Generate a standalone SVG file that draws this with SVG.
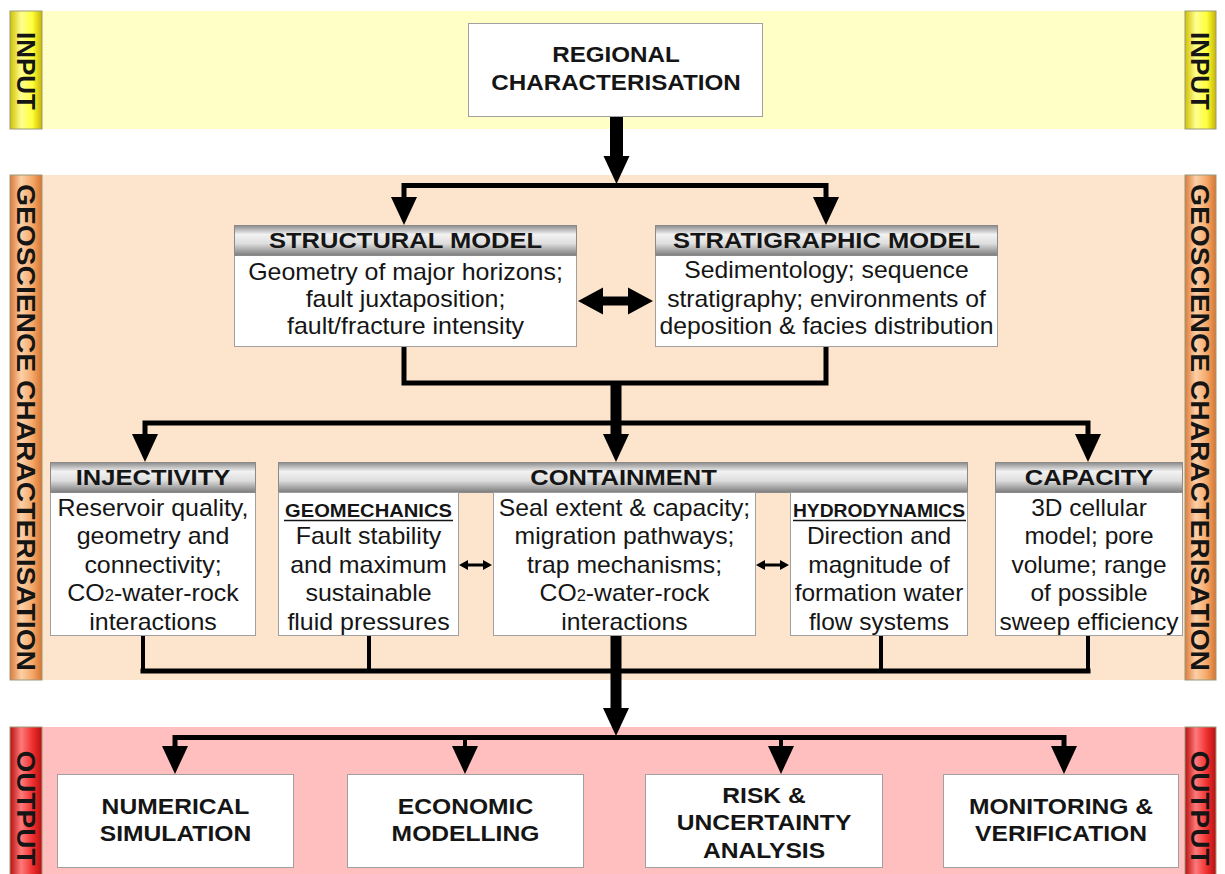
<svg xmlns="http://www.w3.org/2000/svg" xmlns:xlink="http://www.w3.org/1999/xlink" width="1225" height="874" viewBox="0 0 1225 874">
<defs>
<linearGradient id="gY" x1="0" y1="0" x2="1" y2="0"><stop offset="0" stop-color="#cfc000"/><stop offset="0.35" stop-color="#ffff90"/><stop offset="0.7" stop-color="#ffff3a"/><stop offset="1" stop-color="#c8b400"/></linearGradient>
<linearGradient id="gO" x1="0" y1="0" x2="1" y2="0"><stop offset="0" stop-color="#dc7a38"/><stop offset="0.35" stop-color="#fcd0a8"/><stop offset="0.7" stop-color="#f5a868"/><stop offset="1" stop-color="#d87430"/></linearGradient>
<linearGradient id="gR" x1="0" y1="0" x2="1" y2="0"><stop offset="0" stop-color="#b81010"/><stop offset="0.35" stop-color="#ff7a7a"/><stop offset="0.7" stop-color="#f03030"/><stop offset="1" stop-color="#b81010"/></linearGradient>
<linearGradient id="gH" x1="0" y1="0" x2="0" y2="1"><stop offset="0" stop-color="#8a8a8a"/><stop offset="0.3" stop-color="#f2f2f2"/><stop offset="0.6" stop-color="#dedede"/><stop offset="1" stop-color="#7c7c7c"/></linearGradient>
<path id="ah" d="M-13,-28 L13,-28 L0,0 Z"/>
<style>
text{font-family:"Liberation Sans",Arial,sans-serif;fill:#151515;text-anchor:middle}
.side{font-size:26px;font-weight:bold}
.hd{font-size:22px;font-weight:bold}
.big{font-size:22px;font-weight:bold}
.b{font-size:24px}
.sub{font-size:18px;font-weight:bold}
.box{fill:#fff;stroke:#a0a0a0;stroke-width:1}
.hbar{fill:url(#gH);stroke:#8a8a8a;stroke-width:1}
.lab{stroke:#9a9a7a;stroke-width:1}
.ln{fill:none;stroke:#000;stroke-width:5;stroke-linejoin:miter;stroke-linecap:square}
.ln4{fill:none;stroke:#000;stroke-width:4}
.ul{stroke:#151515;stroke-width:1.5}
</style>
</defs>
<rect width="1225" height="874" fill="#fff"/>
<g id="bands">
<rect x="42" y="11" width="1143" height="118" fill="#ffffc6"/>
<rect x="42" y="175" width="1143" height="505" fill="#fde5cd"/>
<rect x="42" y="727" width="1143" height="147" fill="#ffbfbf"/>
</g>
<g id="label-input-left"><rect class="lab" x="10" y="11" width="32" height="118" fill="url(#gY)"/><text class="side" transform="translate(16.7 71) rotate(90)">INPUT</text></g>
<g id="label-input-right"><rect class="lab" x="1185" y="11" width="31" height="118" fill="url(#gY)"/><text class="side" transform="translate(1191.2 71) rotate(90)">INPUT</text></g>
<g id="label-geo-left"><rect class="lab" x="10" y="175" width="32" height="505" fill="url(#gO)"/><text class="side" transform="translate(16.7 427.5) rotate(90)" textLength="487" lengthAdjust="spacingAndGlyphs">GEOSCIENCE CHARACTERISATION</text></g>
<g id="label-geo-right"><rect class="lab" x="1185" y="175" width="31" height="505" fill="url(#gO)"/><text class="side" transform="translate(1191.2 427.5) rotate(90)" textLength="487" lengthAdjust="spacingAndGlyphs">GEOSCIENCE CHARACTERISATION</text></g>
<g id="label-output-left"><rect class="lab" x="10" y="727" width="32" height="150" fill="url(#gR)"/><text class="side" transform="translate(16.7 808) rotate(90)" textLength="115" lengthAdjust="spacingAndGlyphs">OUTPUT</text></g>
<g id="label-output-right"><rect class="lab" x="1185" y="727" width="31" height="150" fill="url(#gR)"/><text class="side" transform="translate(1191.2 808) rotate(90)" textLength="115" lengthAdjust="spacingAndGlyphs">OUTPUT</text></g>

<g id="connectors">
<rect x="610" y="117" width="13" height="41"/>
<use xlink:href="#ah" transform="translate(616.5 184)"/>
<path class="ln" d="M404,200 V185.5 H826 V200"/>
<use xlink:href="#ah" transform="translate(404 225)"/>
<use xlink:href="#ah" transform="translate(826 225)"/>
<path d="M578,301 L603,287.5 L603,296.5 L628,296.5 L628,287.5 L653,301 L628,314.5 L628,305.5 L603,305.5 L603,314.5 Z"/>
<path class="ln" d="M404,347 V383 H826 V347"/>
<rect x="610.5" y="383" width="11" height="52"/>
<path class="ln" d="M145,434 V423 H1088 V434"/>
<use xlink:href="#ah" transform="translate(145 462)"/>
<use xlink:href="#ah" transform="translate(616 462)"/>
<use xlink:href="#ah" transform="translate(1088 462)"/>
<path d="M459,565 L468,560 L468,563.5 L483,563.5 L483,560 L492,565 L483,570 L483,566.5 L468,566.5 L468,570 Z"/>
<path d="M756,565 L765,560 L765,563.5 L780,563.5 L780,560 L789,565 L780,570 L780,566.5 L765,566.5 L765,570 Z"/>
<path class="ln4" d="M143,636 V671 M369,636 V671 M881,636 V671 M1088,636 V671"/>
<path class="ln" d="M143,671 H1088"/>
<rect x="610.5" y="636" width="11" height="73"/>
<use xlink:href="#ah" transform="translate(616 736)"/>
<path class="ln" d="M175,746 V737.5 H1064 V746"/>
<path class="ln4" d="M465,737 V746 M781,737 V746"/>
<use xlink:href="#ah" transform="translate(175 774)"/>
<use xlink:href="#ah" transform="translate(465 774)"/>
<use xlink:href="#ah" transform="translate(781 774)"/>
<use xlink:href="#ah" transform="translate(1064 774)"/>
</g>

<g id="regional">
<rect class="box" x="468.5" y="23.5" width="294" height="93"/>
<text class="big" transform="translate(616 0) scale(1.1 1)"><tspan x="0" y="62">REGIONAL</tspan><tspan x="0" y="90">CHARACTERISATION</tspan></text>
</g>

<g id="structural">
<rect class="box" x="234.5" y="225.5" width="342" height="121"/>
<rect class="hbar" x="234.5" y="225.5" width="342" height="30"/>
<text class="hd" transform="translate(405.5 0) scale(1.16 1)" x="0" y="248">STRUCTURAL MODEL</text>
<text class="b" transform="translate(405.5 0) scale(1.04 1)"><tspan x="0" y="280">Geometry of major horizons;</tspan><tspan x="0" y="307">fault juxtaposition;</tspan><tspan x="0" y="334">fault/fracture intensity</tspan></text>
</g>

<g id="stratigraphic">
<rect class="box" x="655.5" y="225.5" width="342" height="121"/>
<rect class="hbar" x="655.5" y="225.5" width="342" height="30"/>
<text class="hd" transform="translate(826.5 0) scale(1.16 1)" x="0" y="248">STRATIGRAPHIC MODEL</text>
<text class="b" transform="translate(826.5 0) scale(1.03 1)"><tspan x="0" y="278">Sedimentology; sequence</tspan><tspan x="0" y="307">stratigraphy; environments of</tspan><tspan x="0" y="334">deposition &amp; facies distribution</tspan></text>
</g>

<g id="injectivity">
<rect class="box" x="50.5" y="462.5" width="205" height="173"/>
<rect class="hbar" x="50.5" y="462.5" width="205" height="30"/>
<text class="hd" transform="translate(153 0) scale(1.16 1)" x="0" y="485">INJECTIVITY</text>
<text class="b" transform="translate(153 0) scale(1.04 1)"><tspan x="0" y="516">Reservoir quality,</tspan><tspan x="0" y="544.5">geometry and</tspan><tspan x="0" y="573">connectivity;</tspan><tspan x="0" y="601.5">CO<tspan font-size="16">2</tspan>-water-rock</tspan><tspan x="0" y="630">interactions</tspan></text>
</g>

<g id="containment">
<rect class="hbar" x="278.5" y="462.5" width="689" height="30"/>
<text class="hd" transform="translate(623.5 0) scale(1.16 1)" x="0" y="485">CONTAINMENT</text>
</g>

<g id="geomechanics">
<rect class="box" x="278.5" y="492.5" width="180" height="143"/>
<text class="sub" transform="translate(368.5 0) scale(1.12 1)" x="0" y="517">GEOMECHANICS</text>
<line class="ul" x1="284" y1="520.5" x2="453" y2="520.5"/>
<text class="b" transform="translate(368.5 0) scale(1.04 1)"><tspan x="0" y="544.5">Fault stability</tspan><tspan x="0" y="573">and maximum</tspan><tspan x="0" y="601.5">sustainable</tspan><tspan x="0" y="630">fluid pressures</tspan></text>
</g>

<g id="containment-core">
<rect class="box" x="493.5" y="492.5" width="262" height="143"/>
<text class="b" transform="translate(624.5 0) scale(1.03 1)"><tspan x="0" y="516">Seal extent &amp; capacity;</tspan><tspan x="0" y="544.5">migration pathways;</tspan><tspan x="0" y="573">trap mechanisms;</tspan><tspan x="0" y="601.5">CO<tspan font-size="16">2</tspan>-water-rock</tspan><tspan x="0" y="630">interactions</tspan></text>
</g>

<g id="hydrodynamics">
<rect class="box" x="790.5" y="492.5" width="177" height="143"/>
<text class="sub" transform="translate(879 0) scale(1.07 1)" x="0" y="517">HYDRODYNAMICS</text>
<line class="ul" x1="793" y1="520.5" x2="966" y2="520.5"/>
<text class="b" transform="translate(879 0) scale(1.02 1)"><tspan x="0" y="544.5">Direction and</tspan><tspan x="0" y="573">magnitude of</tspan><tspan x="0" y="601.5">formation water</tspan><tspan x="0" y="630">flow systems</tspan></text>
</g>

<g id="capacity">
<rect class="box" x="995.5" y="462.5" width="187" height="173"/>
<rect class="hbar" x="995.5" y="462.5" width="187" height="30"/>
<text class="hd" transform="translate(1089 0) scale(1.16 1)" x="0" y="485">CAPACITY</text>
<text class="b" transform="translate(1089 0) scale(1.02 1)"><tspan x="0" y="516">3D cellular</tspan><tspan x="0" y="544.5">model; pore</tspan><tspan x="0" y="573">volume; range</tspan><tspan x="0" y="601.5">of possible</tspan><tspan x="0" y="630">sweep efficiency</tspan></text>
</g>

<g id="numerical">
<rect class="box" x="57.5" y="774.5" width="236" height="93"/>
<text class="big" transform="translate(175.5 0) scale(1.12 1)"><tspan x="0" y="814">NUMERICAL</tspan><tspan x="0" y="841">SIMULATION</tspan></text>
</g>
<g id="economic">
<rect class="box" x="347.5" y="774.5" width="236" height="93"/>
<text class="big" transform="translate(465.5 0) scale(1.12 1)"><tspan x="0" y="814">ECONOMIC</tspan><tspan x="0" y="841">MODELLING</tspan></text>
</g>
<g id="risk">
<rect class="box" x="645.5" y="774.5" width="237" height="93"/>
<text class="big" transform="translate(764 0) scale(1.12 1)"><tspan x="0" y="803">RISK &amp;</tspan><tspan x="0" y="830">UNCERTAINTY</tspan><tspan x="0" y="858">ANALYSIS</tspan></text>
</g>
<g id="monitoring">
<rect class="box" x="943.5" y="774.5" width="235" height="93"/>
<text class="big" transform="translate(1061 0) scale(1.12 1)"><tspan x="0" y="814">MONITORING &amp;</tspan><tspan x="0" y="841">VERIFICATION</tspan></text>
</g>
</svg>
